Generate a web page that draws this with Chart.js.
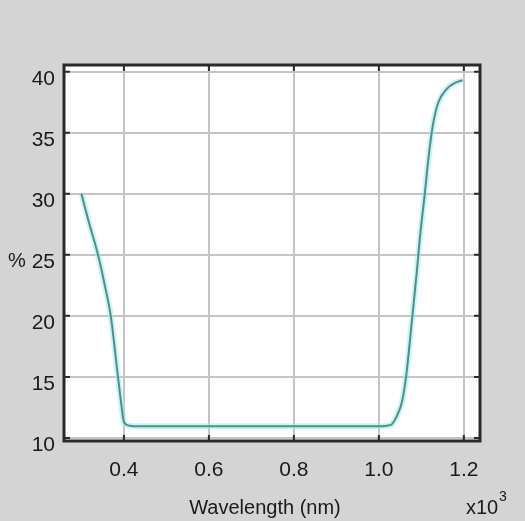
<!DOCTYPE html>
<html>
<head>
<meta charset="utf-8">
<script src="https://cdn.jsdelivr.net/npm/chart.js@4.4.1/dist/chart.umd.min.js"></script>
<style>
  html, body { margin: 0; padding: 0; background: #d3d3d3; }
  canvas { display: block; }
</style>
</head>
<body>
<canvas id="chart" width="525" height="521"></canvas>
<script>
// wavelength in units of 10^3 nm, reflectance in %
var wavelength = [0.300, 0.315, 0.339, 0.355, 0.369, 0.386, 0.393, 0.400, 0.414, 0.430, 0.500, 0.600,
    0.700, 0.800, 0.900, 1.000, 1.019, 1.030, 1.038, 1.046, 1.054, 1.064, 1.078, 1.089, 1.096,
    1.108, 1.117, 1.127, 1.139, 1.160, 1.180, 1.197];
var reflectance = [30.0, 28.0, 25.0, 22.5, 20.0, 15.0, 13.0, 11.3, 11.0, 10.95, 10.95, 10.95,
    10.95, 10.95, 10.95, 10.95, 11.0, 11.1, 11.5, 12.1, 12.9, 15.0, 19.7, 23.5, 26.2,
    30.0, 33.0, 35.6, 37.4, 38.6, 39.1, 39.3];
var xTicks = [0.4, 0.6, 0.8, 1.0, 1.2];
var yTicks = [10, 15, 20, 25, 30, 35, 40];

var FONT = '"Liberation Sans", Arial, sans-serif';
var points = wavelength.map(function(w, i) {
    return {x: w, y: reflectance[i]};
});

// grey figure background, white axes box, frame and inner tick marks
var framePlugin = {
    id: 'frame',
    beforeDraw: function(chart) {
        var ctx = chart.ctx;
        var a = chart.chartArea;
        ctx.save();
        ctx.fillStyle = '#d4d4d4';
        ctx.fillRect(0, 0, chart.width, chart.height);
        ctx.fillStyle = '#ffffff';
        ctx.fillRect(a.left, a.top, a.right - a.left, a.bottom - a.top);
        ctx.restore();
    },
    afterDraw: function(chart) {
        var ctx = chart.ctx;
        var a = chart.chartArea;
        var xs = chart.scales.x;
        var ys = chart.scales.y;
        ctx.save();
        ctx.strokeStyle = '#2a2a2a';
        ctx.lineWidth = 3;
        ctx.strokeRect(a.left, a.top, a.right - a.left, a.bottom - a.top);
        ctx.lineWidth = 2;
        ctx.beginPath();
        xTicks.forEach(function(v) {
            var px = xs.getPixelForValue(v);
            ctx.moveTo(px, a.bottom);
            ctx.lineTo(px, a.bottom - 6);
            ctx.moveTo(px, a.top);
            ctx.lineTo(px, a.top + 6);
        });
        yTicks.forEach(function(v) {
            var py = ys.getPixelForValue(v);
            ctx.moveTo(a.left, py);
            ctx.lineTo(a.left + 6, py);
            ctx.moveTo(a.right, py);
            ctx.lineTo(a.right - 6, py);
        });
        ctx.stroke();

        ctx.fillStyle = '#1a1a1a';
        ctx.font = '20px ' + FONT;
        ctx.textBaseline = 'middle';
        ctx.textAlign = 'center';
        ctx.fillText('%', 17, ys.getPixelForValue(25) + 7);
        ctx.textBaseline = 'alphabetic';
        ctx.fillText('Wavelength (nm)', 265, 514);
        ctx.textAlign = 'left';
        ctx.fillText('x10', 466, 514);
        ctx.font = '14px ' + FONT;
        ctx.fillText('3', 499, 501);
        ctx.restore();
    }
};

new Chart(document.getElementById('chart'), {
    type: 'line',
    data: {
        datasets: [{
            data: points,
            borderColor: '#4d8f8a',
            borderWidth: 2,
            pointRadius: 0,
            cubicInterpolationMode: 'monotone',
            fill: false
        }, {
            // faint cyan halo under the trace
            data: points,
            borderColor: 'rgba(160, 235, 235, 0.55)',
            borderWidth: 6,
            pointRadius: 0,
            cubicInterpolationMode: 'monotone',
            fill: false,
            order: 1
        }]
    },
    options: {
        responsive: false,
        animation: false,
        events: [],
        layout: {padding: {top: 65, right: 45, left: 0, bottom: 0}},
        plugins: {legend: {display: false}, tooltip: {enabled: false}},
        scales: {
            x: {
                type: 'linear',
                min: 0.259,
                max: 1.238,
                afterBuildTicks: function(s) {
                    s.ticks = xTicks.map(function(v) { return {value: v}; });
                },
                afterFit: function(s) { s.height = 80; },
                grid: {color: '#c4c4c4', lineWidth: 2, drawTicks: false},
                border: {display: false},
                ticks: {
                    padding: 17,
                    color: '#1a1a1a',
                    font: {family: FONT, size: 21},
                    maxRotation: 0,
                    callback: function(v) { return v.toFixed(1); }
                }
            },
            y: {
                min: 9.75,
                max: 40.55,
                afterBuildTicks: function(s) {
                    s.ticks = yTicks.map(function(v) { return {value: v}; });
                },
                afterFit: function(s) { s.width = 64; },
                grid: {color: '#c4c4c4', lineWidth: 2, drawTicks: false},
                border: {display: false},
                ticks: {
                    padding: 9,
                    labelOffset: 7,
                    color: '#1a1a1a',
                    font: {family: FONT, size: 21}
                }
            }
        }
    },
    plugins: [framePlugin]
});
</script>
</body>
</html>
